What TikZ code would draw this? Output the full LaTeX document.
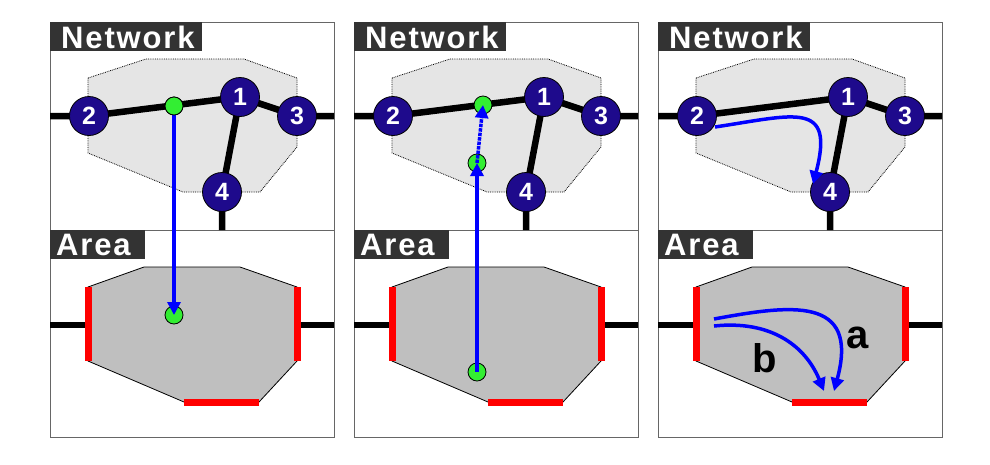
\documentclass[tikz,border=0pt]{standalone}
\usepackage{fontspec}
\setmainfont{Liberation Sans}
\newfontfamily\titlefont[LetterSpace=6]{Liberation Sans Bold}
\usetikzlibrary{arrows.meta}
\definecolor{navy}{HTML}{1E0A8C}
\definecolor{ttl}{HTML}{333333}
\definecolor{grn}{HTML}{33EE33}
\tikzset{
 panel/.style={draw=black!60, line width=1pt, fill=white},
 ttlbox/.style={fill=ttl, inner sep=0pt, anchor=north west},
 ttltext/.style={anchor=west, text=white, font=\titlefont\fontsize{31}{31}\selectfont, inner sep=0pt},
 link/.style={line width=6.5pt, black},
 nd/.style={circle, fill=navy, draw=black, line width=0.8pt, minimum size=39pt, inner sep=0pt, text=white, font=\bfseries\fontsize{25}{25}\selectfont},
 gd/.style={circle, fill=grn, draw=black, line width=0.8pt, minimum size=18pt, inner sep=0pt},
 netarea/.style={fill=black!10, draw=black, densely dotted, line width=0.8pt},
 area/.style={fill=black!25, draw=black, line width=0.8pt},
 bar/.style={line width=7pt, red},
 arr/.style={blue, line width=3.5pt, -{Triangle[length=13pt,width=13pt]}},
 lbl/.style={font=\bfseries\fontsize{40}{40}\selectfont},
}
\newcommand{\panelx}[2]{%
\begin{scope}[xshift=#1]
 \draw[panel] (50,22) rectangle (334,437);
 \draw[black!60, line width=1pt] (50,230) -- (334,230);
 \draw[netarea] (88,78) -- (146,59) -- (244,59) -- (297,78) -- (297,147) -- (260,192) -- (183,192) -- (88,153) -- cycle;
 \coordinate (l#2) at (50,116); \coordinate (r#2) at (334,116); \coordinate (d#2) at (222,230);
 \coordinate (n2#2) at (89,116);
 \coordinate (n1#2) at (240,97);
 \coordinate (n3#2) at (297,116);
 \coordinate (n4#2) at (222,192);
 \draw[link] (l#2) -- (n2#2) -- (n1#2) -- (n3#2) -- (r#2);
 \draw[link] (n1#2) -- (n4#2) -- (d#2);
 \node[nd] (m2#2) at (n2#2) {2};
 \node[nd] (m1#2) at (n1#2) {1};
 \node[nd] (m3#2) at (n3#2) {3};
 \node[nd] (m4#2) at (n4#2) {4};
 \draw[area] (88,287) -- (144,267) -- (240,267) -- (297,287) -- (297,361) -- (259,402) -- (184,402) -- (88,361) -- cycle;
 \coordinate (al#2) at (50,325); \coordinate (ab#2) at (88,325);
 \coordinate (ar#2) at (334,325); \coordinate (ac#2) at (297,325);
 \draw[link] (al#2) -- (ab#2); \draw[link] (ac#2) -- (ar#2);
 \draw[bar] (88,287) -- (88,361); \draw[bar] (297,287) -- (297,361); \draw[bar] (184,402) -- (259,402);
 \node[ttlbox, minimum width=152pt, minimum height=29pt] (tn#2) at (50,22) {};
 \node[ttltext] (tnt#2) at (61,37) {Network};
 \node[ttlbox, minimum width=95pt, minimum height=29pt] (ta#2) at (50,230) {};
 \node[ttltext] (tat#2) at (56,245) {Area};
\end{scope}}
\begin{document}
\begin{tikzpicture}[x=1pt,y=-1pt]
\useasboundingbox (0,0) rectangle (990,464);
\fill[white] (0,0) rectangle (990,464);
\panelx{0pt}{a}
\panelx{304pt}{b}
\panelx{608pt}{c}
% panel 1
\node[gd] (g1) at (174,106) {};
\node[gd] (g2) at (174,315) {};
\draw[arr] (g1.center) -- (g2.center);
\node[gd] at (g1) {};
% panel 2
\node[gd] (h1) at (483,105) {};
\node[gd] (h2) at (477,163) {};
\node[gd] (h3) at (477,372) {};
\draw[arr] (h3.center) -- (h2.center);
\draw[arr, densely dotted] (h2.center) -- (h1.center);
% panel 3
\coordinate (s1) at (715,127);
\coordinate (e1) at (813,184);
\draw[arr] (s1) .. controls (795,115) and (835,100) .. (e1);
\coordinate (sa) at (714,319);
\coordinate (ea) at (834,391);
\coordinate (sb) at (714,326);
\coordinate (eb) at (824,391);
\draw[arr] (sa) .. controls (790,305) and (860,295) .. (ea);
\draw[arr] (sb) .. controls (770,320) and (805,345) .. (eb);
\node[lbl] (la) at (858,338) {a};
\node[lbl] (lb) at (765,358) {b};
\end{tikzpicture}
\end{document}
